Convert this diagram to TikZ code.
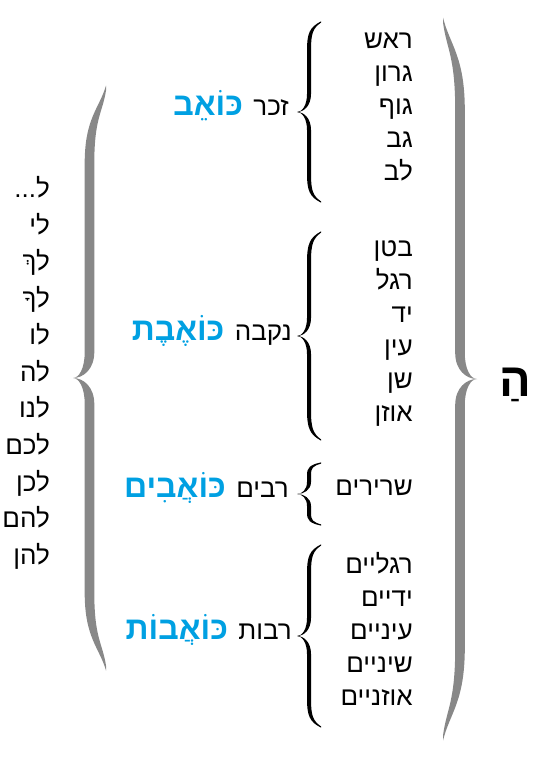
\documentclass[tikz,border=0pt]{standalone}
\usepackage{fontspec}
\TeXXeTstate=1
\newfontfamily\heb[Script=Hebrew]{Liberation Sans}
\definecolor{kblue}{RGB}{0,160,226}
\definecolor{bgray}{RGB}{136,136,136}
% hook shape factors
\def\bhk{0.8}\def\bkk{0.2}
% #1 x of ends, #2 y top, #3 y bottom, #4 x of tip, #5 half body width,
% #6 half end width, #7 hook length, #8 tip length, #9 fill style
\newcommand{\bracefill}[9]{%
 \pgfmathsetmacro\bC{(#2+#3)/2}%
 \pgfmathsetmacro\bM{(#1+#4)/2}%
 \pgfmathsetmacro\bs{(#4>#1)?1:-1}%
 \pgfmathsetmacro\bO{\bM+\bs*#5}%
 \pgfmathsetmacro\bI{\bM-\bs*#5}%
 \pgfmathsetmacro\bOh{#1+\bhk*(\bO-#1)}%
 \pgfmathsetmacro\bIh{#1+\bhk*(\bI-#1)}%
 \pgfmathsetmacro\bOt{(\bO+#4)/2}%
 \pgfmathsetmacro\bIt{(\bI+#4)/2}%
 \fill[#9] (#1,#2-#6) .. controls (\bOh,#2-#6+\bkk*#7) and (\bO,#2+0.4*#7) .. (\bO,#2+#7)
   -- (\bO,\bC-#8) .. controls (\bO,\bC-0.35*#8) and (\bOt,\bC) .. (#4,\bC)
   .. controls (\bIt,\bC) and (\bI,\bC-0.35*#8) .. (\bI,\bC-#8)
   -- (\bI,#2+#7) .. controls (\bI,#2+0.4*#7) and (\bIh,#2+#6+\bkk*#7) .. (#1,#2+#6) -- cycle;
 \fill[#9] (#1,#3+#6) .. controls (\bOh,#3+#6-\bkk*#7) and (\bO,#3-0.4*#7) .. (\bO,#3-#7)
   -- (\bO,\bC+#8) .. controls (\bO,\bC+0.35*#8) and (\bOt,\bC) .. (#4,\bC)
   .. controls (\bIt,\bC) and (\bI,\bC+0.35*#8) .. (\bI,\bC+#8)
   -- (\bI,#3-#7) .. controls (\bI,#3-0.4*#7) and (\bIh,#3-#6-\bkk*#7) .. (#1,#3-#6) -- cycle;
}
\begin{document}
\begin{tikzpicture}[x=1pt,y=-1pt,
  word/.style={anchor=base east,inner sep=0pt,font=\heb\fontsize{26}{30}\selectfont},
  lab/.style={anchor=base east,inner sep=0pt,font=\heb\fontsize{26}{30}\selectfont},
  key/.style={anchor=base east,inner sep=0pt,text=kblue,font=\heb\bfseries\fontsize{32}{36}\selectfont},
  bigh/.style={anchor=base east,inner sep=0pt,font=\heb\bfseries\fontsize{47}{51}\selectfont}]
\useasboundingbox (0,0) rectangle (533,758);
% big gray braces
\def\bhk{0.3}\def\bkk{0.3}
\bracefill{443}{20}{738}{477}{4.8}{2.5}{90}{26}{bgray}
\bracefill{106}{88}{668}{73}{4.8}{2.5}{75}{26}{bgray}
% black braces
\def\bhk{0.8}\def\bkk{0.2}
\bracefill{321}{22}{202}{297}{2.0}{0.6}{28}{18}{black}
\bracefill{321}{232}{440}{297}{2.0}{0.6}{30}{18}{black}
\bracefill{321}{463}{525}{297}{2.0}{0.6}{12}{12}{black}
\bracefill{321}{545}{727}{297}{2.0}{0.6}{28}{18}{black}
% right letter
\node[bigh] (he) at (531,396) {\beginR הַ\endR};
% group 1
\node[word] (a1) at (413,48.5) {\beginR ראש\endR};
\node[word] (a2) at (413,81.5) {\beginR גרון\endR};
\node[word] (a3) at (413,114.5) {\beginR גוף\endR};
\node[word] (a4) at (413,147.5) {\beginR גב\endR};
\node[word] (a5) at (413,180.5) {\beginR לב\endR};
% group 2
\node[word] (b1) at (413,256.5) {\beginR בטן\endR};
\node[word] (b2) at (413,289.5) {\beginR רגל\endR};
\node[word] (b3) at (413,322.5) {\beginR יד\endR};
\node[word] (b4) at (413,355.5) {\beginR עין\endR};
\node[word] (b5) at (413,388.5) {\beginR שן\endR};
\node[word] (b6) at (413,421.5) {\beginR אוזן\endR};
% group 3
\node[word] (c1) at (413,495.5) {\beginR שרירים\endR};
% group 4
\node[word] (d1) at (413,573.5) {\beginR רגליים\endR};
\node[word] (d2) at (413,606.5) {\beginR ידיים\endR};
\node[word] (d3) at (413,639.5) {\beginR עיניים\endR};
\node[word] (d4) at (413,672.5) {\beginR שיניים\endR};
\node[word] (d5) at (413,705.5) {\beginR אוזניים\endR};
% labels
\node[lab] (l1) at (289,115.5) {\beginR זכר\endR};
\node[key] (k1) at ([xshift=-10pt]l1.base west) {\beginR כּוֹאֵב\endR};
\node[lab] (l2) at (292,340.5) {\beginR נקבה\endR};
\node[key] (k2) at ([xshift=-10pt]l2.base west) {\beginR כּוֹאֶבֶת\endR};
\node[lab] (l3) at (289,497.5) {\beginR רבים\endR};
\node[key] (k3) at ([xshift=-10pt]l3.base west) {\beginR כּוֹאֲבִים\endR};
\node[lab] (l4) at (292,639.5) {\beginR רבות\endR};
\node[key] (k4) at ([xshift=-10pt]l4.base west) {\beginR כּוֹאֲבוֹת\endR};
% left column
\node[word] (p0) at (50,197.5) {\beginR ל...\endR};
\node[word] (p1) at (50,234.2) {\beginR לי\endR};
\node[word] (p2) at (50,270.9) {\beginR לךְ\endR};
\node[word] (p3) at (50,307.6) {\beginR לךָ\endR};
\node[word] (p4) at (50,344.3) {\beginR לו\endR};
\node[word] (p5) at (50,381.0) {\beginR לה\endR};
\node[word] (p6) at (50,417.7) {\beginR לנו\endR};
\node[word] (p7) at (50,454.4) {\beginR לכם\endR};
\node[word] (p8) at (50,491.1) {\beginR לכן\endR};
\node[word] (p9) at (50,527.8) {\beginR להם\endR};
\node[word] (p10) at (50,564.5) {\beginR להן\endR};
\end{tikzpicture}
\end{document}
